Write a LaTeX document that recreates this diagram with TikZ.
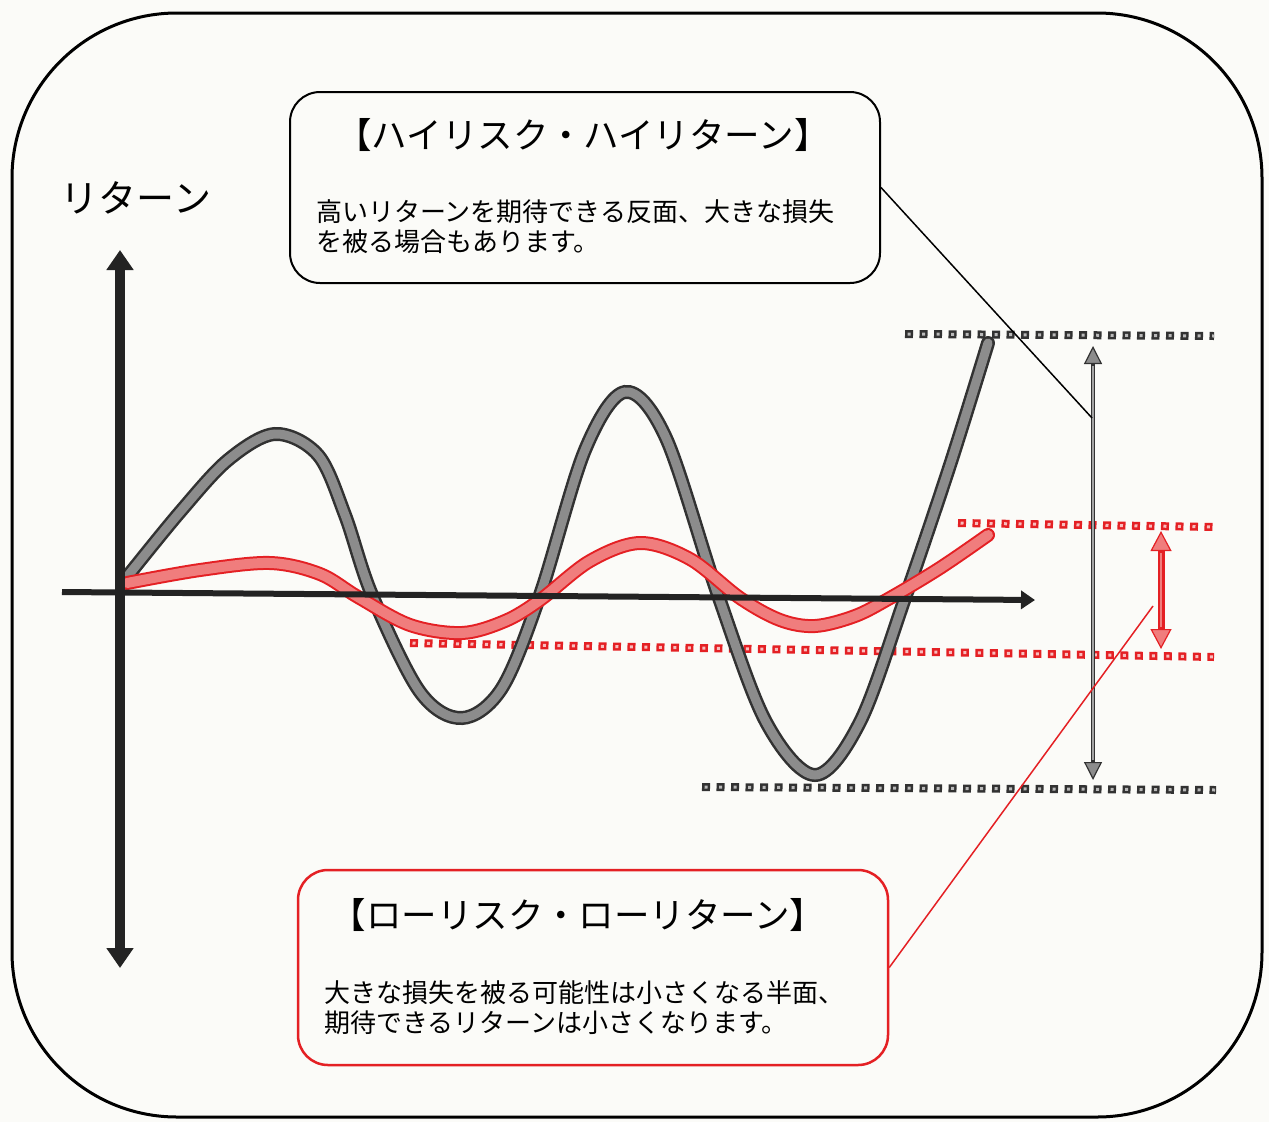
\documentclass[tikz,border=0pt]{standalone}
\usepackage{fontspec}
\newfontfamily\jp{Noto Sans CJK JP}
\usetikzlibrary{arrows.meta}
\definecolor{myred}{RGB}{228,32,36}
\definecolor{lightred}{RGB}{240,125,125}
\definecolor{paper}{RGB}{251,251,248}
\definecolor{curvegray}{RGB}{140,140,140}
\definecolor{curvedark}{RGB}{50,50,50}
\definecolor{axisdark}{RGB}{35,35,35}
\tikzset{
  frameline/.style={line width=3pt, rounded corners=165pt},
  callbox/.style={draw, line width=2pt, rounded corners=30pt, inner sep=0pt, minimum width=590pt},
  titletext/.style={font=\jp\fontsize{35.5pt}{40pt}\selectfont, inner sep=0pt},
  bodytext/.style={font=\jp\fontsize{26pt}{30pt}\selectfont, inner sep=0pt, anchor=west},
  axisline/.style={draw=axisdark, line width=10pt, {Triangle[width=26pt,length=20pt]}-{Triangle[width=26pt,length=20pt]}},
  sqouter/.style={line width=8pt, dash pattern=on 8pt off 6.5pt},
  sqinner/.style={line width=3pt, dash pattern=on 3pt off 11.5pt, dash phase=12pt},
  calloutline/.style={line width=1.5pt}
}
\begin{document}
\begin{tikzpicture}[x=1pt,y=-1pt]
\useasboundingbox (0,0) rectangle (1269,1122);
\fill[paper] (0,0) rectangle (1269,1122);
% outer frame
\draw[frameline] (12,13) rectangle (1262,1117);

% coordinates
\coordinate (ytop) at (120,250);
\coordinate (ybot) at (120,968);
\coordinate (xl) at (62,592);
\coordinate (xr) at (1035,600);
\coordinate (gtop) at (1093,346);
\coordinate (gbot) at (1093,780);
\coordinate (rtop) at (1161,531);
\coordinate (rbot) at (1161,649);
\coordinate (gpoint) at (1092,418);
\coordinate (rpoint) at (1153,606);

% dotted reference lines
\draw[sqouter, curvedark] (905,334) -- (1214,336);
\draw[sqinner, curvegray!60] (905,334) -- (1214,336);
\draw[sqouter, curvedark] (702,787) -- (1216,790);
\draw[sqinner, curvegray!60] (702,787) -- (1216,790);
\draw[sqouter, myred] (958,523) -- (1214,527);
\draw[sqinner, lightred!50] (958,523) -- (1214,527);
\draw[sqouter, myred] (410,643) -- (1214,657);
\draw[sqinner, lightred!50] (410,643) -- (1214,657);

% high-risk curve
\def\graycurve{(127,577) (180,512) (228,460) (275,434) (318,455) (345,515) (372,595) (420,692) (462,718) (502,688) (540,595) (585,450) (625,392) (666,438) (718,595) (766,722) (815,775) (860,722) (905,598) (950,465) (988,343)}
\draw[curvedark, line width=14pt, line cap=round] plot[smooth, tension=0.55] coordinates {\graycurve};
\draw[curvegray, line width=9pt, line cap=round] plot[smooth, tension=0.55] coordinates {\graycurve};

% low-risk curve
\def\redcurve{(127,583) (200,570) (270,563) (320,574) (358,597) (410,625) (462,633) (505,621) (540,600) (590,561) (640,543) (690,559) (740,598) (780,620) (815,626) (855,616) (890,598) (940,568) (988,535)}
\draw[myred, line width=14pt, line cap=round] plot[smooth, tension=0.55] coordinates {\redcurve};
\draw[lightred, line width=10pt, line cap=round] plot[smooth, tension=0.55] coordinates {\redcurve};

% axes
\draw[axisline] (ytop) -- (ybot);
\draw[draw=axisdark, line width=6pt, -{Triangle[width=18pt,length=14pt]}] (xl) -- (xr);

% range arrows
\draw[draw=curvedark, line width=4.5pt, {Triangle[width=18pt,length=18pt,fill=curvegray,line width=1.2pt]}-{Triangle[width=18pt,length=18pt,fill=curvegray,line width=1.2pt]}] (gtop) -- (gbot);
\draw[curvegray!80, line width=1.5pt] (1093,366) -- (1093,760);
\draw[draw=myred, line width=7pt, {Triangle[width=21pt,length=20pt,fill=lightred,line width=1.2pt]}-{Triangle[width=21pt,length=20pt,fill=lightred,line width=1.2pt]}] (rtop) -- (rbot);
\draw[lightred, line width=2.5pt] (1161,553) -- (1161,627);

% axis label
\node[titletext, font=\jp\fontsize{38pt}{44pt}\selectfont] (ylabel) at (136,198) {リターン};

% high-risk callout
\node[callbox, draw=black, fill=paper, minimum height=191pt] (hibox) at (585,187.5) {};
\node[titletext] (hititle) at (583,135) {【ハイリスク・ハイリターン】};
\node[bodytext] (hibody1) at (316,212) {高いリターンを期待できる反面、大きな損失};
\node[bodytext] (hibody2) at (316,242) {を被る場合もあります。};
\draw[calloutline, black] (hibox.east) -- (gpoint);

% low-risk callout
\node[callbox, draw=myred, line width=2.5pt, fill=paper, minimum height=195pt] (lobox) at (593,967.5) {};
\node[titletext] (lotitle) at (578,915) {【ローリスク・ローリターン】};
\node[bodytext] (lobody1) at (324,993) {大きな損失を被る可能性は小さくなる半面、};
\node[bodytext] (lobody2) at (324,1023) {期待できるリターンは小さくなります。};
\draw[calloutline, myred] (lobox.east) -- (rpoint);
\end{tikzpicture}
\end{document}
